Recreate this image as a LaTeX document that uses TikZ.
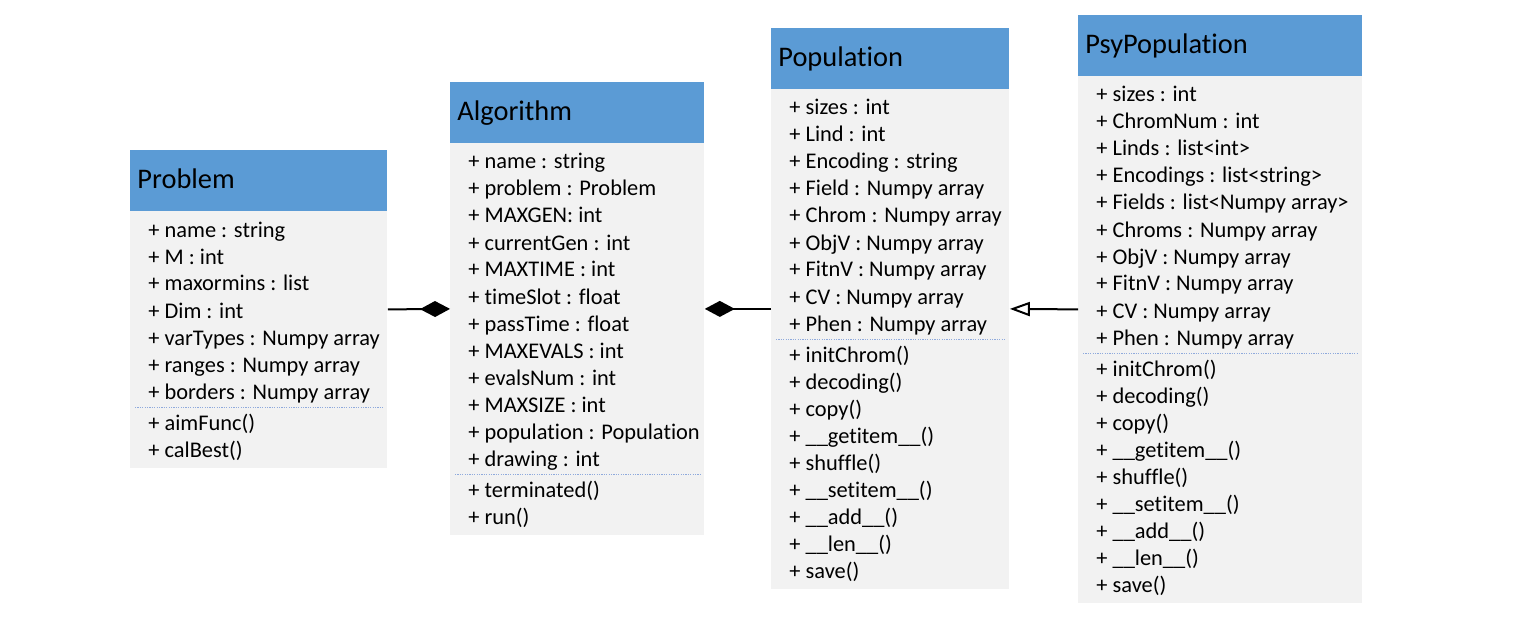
\documentclass[tikz,border=0pt]{standalone}
\usepackage{fontspec}
\setmainfont{Carlito}[Ligatures=NoCommon]
\usetikzlibrary{arrows.meta}
\definecolor{headblue}{HTML}{5B9BD5}
\definecolor{bodygray}{HTML}{F2F2F2}
\definecolor{sepblue}{HTML}{8FAADC}
\tikzset{
  body/.style={fill=bodygray, draw=none, inner sep=0pt, anchor=north west},
  head/.style={fill=headblue, draw=none, inner sep=0pt, anchor=north west, minimum height=30.5pt},
  title/.style={inner sep=0pt, anchor=base west, font=\fontsize{14.2pt}{16pt}\selectfont, text=black},
  item/.style={inner sep=0pt, anchor=base west, font=\fontsize{11.2pt}{13.5pt}\selectfont, text=black},
  sepline/.style={draw=sepblue, line width=0.5pt, dash pattern=on 0.6pt off 0.6pt},
  comp/.style={line width=1pt, -{Diamond[length=15pt, width=8pt]}},
  inh/.style={line width=1pt, -{Triangle[open, length=10pt, width=7pt, fill=white]}},
}
\begin{document}
\begin{tikzpicture}[x=0.5pt, y=-0.5pt]
\useasboundingbox (0,0) rectangle (1514,620);
\fill[white] (0,0) rectangle (1514,620);

% ---------- Problem ----------
\node[body, minimum width=128.5pt, minimum height=159pt] (problem) at (130,150) {};
\node[head, minimum width=128.5pt] (problemH) at (130,150) {};
\node[title] (problemT) at (137,189) {Problem};
\foreach \t [count=\i from 0] in {+ name : string, + M : int, + maxormins : list, + Dim : int, + varTypes : Numpy array, + ranges : Numpy array, + borders : Numpy array}
  \node[item] (problemA\i) at (148,{237+27*\i}) {\t};
\draw[sepline] (135,407) -- (383,407);
\foreach \t [count=\i from 0] in {+ aimFunc(), + calBest()}
  \node[item] (problemM\i) at (148,{430+27*\i}) {\t};

% ---------- Algorithm ----------
\node[body, minimum width=127pt, minimum height=226.5pt] (algorithm) at (450,82) {};
\node[head, minimum width=127pt] (algorithmH) at (450,82) {};
\node[title] (algorithmT) at (457,121) {Algorithm};
\foreach \t [count=\i from 0] in {+ name : string, + problem : Problem, + MAXGEN: int, + currentGen : int, + MAXTIME : int, + timeSlot : float, + passTime : float, + MAXEVALS : int, + evalsNum : int, + MAXSIZE : int, + population : Population, + drawing : int}
  \node[item] (algorithmA\i) at (468,{169+27*\i}) {\t};
\draw[sepline] (455,474) -- (700,474);
\foreach \t [count=\i from 0] in {+ terminated(), + run()}
  \node[item] (algorithmM\i) at (468,{497+27*\i}) {\t};

% ---------- Population ----------
\node[body, minimum width=119pt, minimum height=280.5pt] (population) at (771,28) {};
\node[head, minimum width=119pt] (populationH) at (771,28) {};
\node[title] (populationT) at (778,67) {Population};
\foreach \t [count=\i from 0] in {+ sizes : int, + Lind : int, + Encoding : string, + Field : Numpy array, + Chrom : Numpy array, + ObjV : Numpy array, + FitnV : Numpy array, + CV : Numpy array, + Phen : Numpy array}
  \node[item] (populationA\i) at (789,{115+27*\i}) {\t};
\draw[sepline] (776,339) -- (1005,339);
\foreach \t [count=\i from 0] in {+ initChrom(), + decoding(), + copy(), + \_\_getitem\_\_(), + shuffle(), + \_\_setitem\_\_(), + \_\_add\_\_(), + \_\_len\_\_(), + save()}
  \node[item] (populationM\i) at (789,{362+27*\i}) {\t};

% ---------- PsyPopulation ----------
\node[body, minimum width=142pt, minimum height=294pt] (psy) at (1078,15) {};
\node[head, minimum width=142pt] (psyH) at (1078,15) {};
\node[title] (psyT) at (1085,54) {PsyPopulation};
\foreach \t [count=\i from 0] in {+ sizes : int, + ChromNum : int, + Linds : list<int>, + Encodings : list<string>, + Fields : list<Numpy array>, + Chroms : Numpy array, + ObjV : Numpy array, + FitnV : Numpy array, + CV : Numpy array, + Phen : Numpy array}
  \node[item] (psyA\i) at (1096,{102+27*\i}) {\t};
\draw[sepline] (1083,353) -- (1358,353);
\foreach \t [count=\i from 0] in {+ initChrom(), + decoding(), + copy(), + \_\_getitem\_\_(), + shuffle(), + \_\_setitem\_\_(), + \_\_add\_\_(), + \_\_len\_\_(), + save()}
  \node[item] (psyM\i) at (1096,{376+27*\i}) {\t};

% ---------- connectors ----------
\draw[comp] (problem.east) -- (algorithm.west);
\draw[comp] (population.west) -- (algorithm.east);
\draw[inh] (psy.west) -- (population.east);
\end{tikzpicture}
\end{document}
